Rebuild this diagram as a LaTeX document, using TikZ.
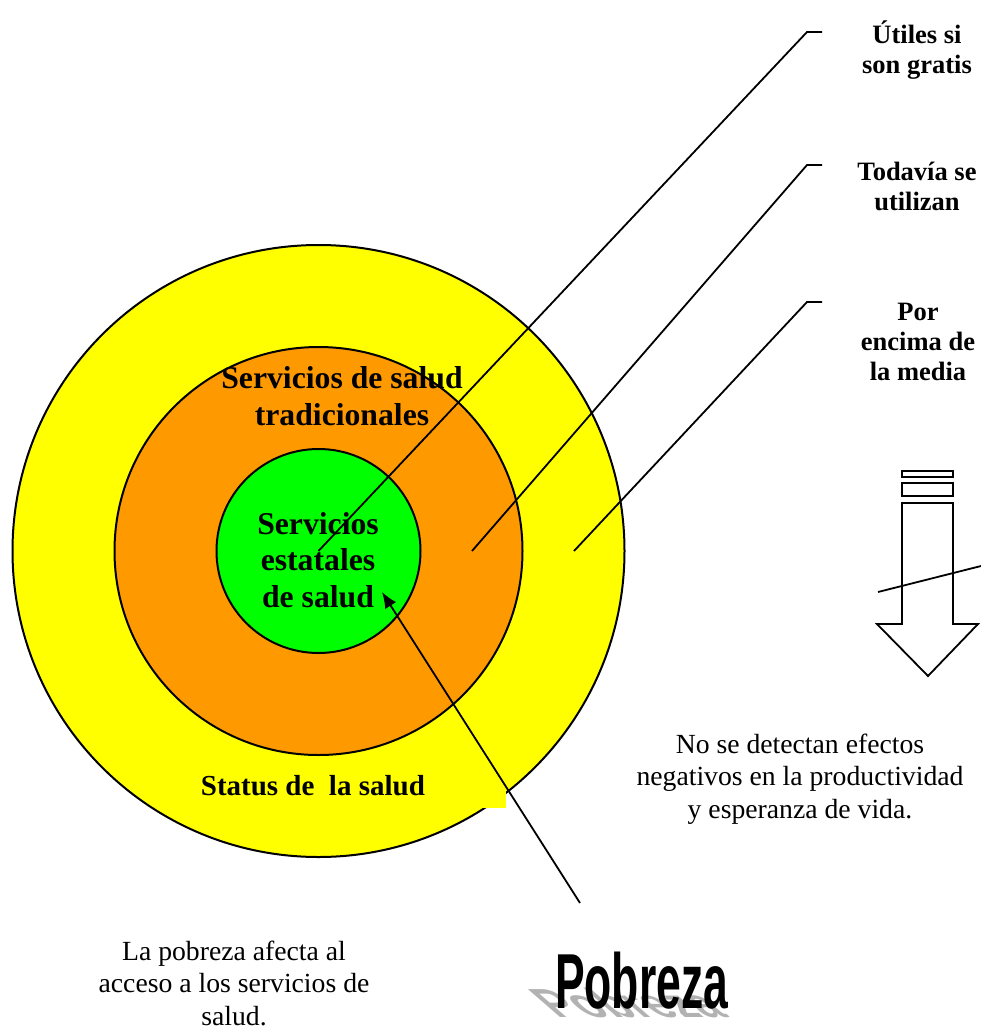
\documentclass[tikz,border=0pt]{standalone}
\usepackage{fontspec}
\setmainfont{Liberation Serif}
\newfontfamily\pobfont{Liberation Sans}
\usetikzlibrary{arrows.meta}
\definecolor{ylw}{RGB}{255,255,0}
\definecolor{org}{RGB}{255,153,0}
\definecolor{grn}{RGB}{0,255,0}
\begin{document}
\begin{tikzpicture}[x=1pt,y=-1pt,line width=1.8pt,
  ring/.style={circle,draw=black,line width=2pt,inner sep=0pt},
  lead/.style={line width=1.8pt},
  sidelab/.style={font=\fontsize{26.5}{30}\selectfont\bfseries,align=center,anchor=base,inner sep=0pt},
  ringlab/.style={font=\fontsize{31.7}{36.5}\selectfont\bfseries,align=center,anchor=base,inner sep=0pt},
  note/.style={font=\fontsize{27.7}{32.5}\selectfont,align=center,anchor=base,inner sep=0pt}]
\useasboundingbox (0,0) rectangle (981,1031);
\coordinate (c) at (318.5,551);
% rings
\node[ring,fill=ylw,minimum size=612pt] (outer) at (c) {};
\fill[ylw] (190,765) rectangle (506,808);
\node[ring,fill=org,minimum size=408pt] (middle) at (c) {};
\node[ring,fill=grn,minimum size=204pt] (inner) at (c) {};
% leader lines
\coordinate (m1) at (472,551);
\coordinate (m2) at (574,551);
\coordinate (b1) at (807,32);  \coordinate (e1) at (822,32);
\coordinate (b2) at (807,165); \coordinate (e2) at (822,165);
\coordinate (b3) at (807,302); \coordinate (e3) at (822,302);
\draw[lead] (c) -- (b1) -- (e1);
\draw[lead] (m1) -- (b2) -- (e2);
\draw[lead] (m2) -- (b3) -- (e3);
% side labels
\node[sidelab] (l1) at (917,73) {Útiles si\\son gratis};
\node[sidelab] (l2) at (917,210) {Todavía se\\utilizan};
\node[sidelab] (l3) at (918,380) {Por\\encima de\\la media};
% ring labels
\node[ringlab] (t2) at (342,425) {Servicios de salud\\tradicionales};
\node[ringlab] (t1) at (318,607) {Servicios\\estatales\\de salud};
\node[font=\fontsize{29}{33}\selectfont\bfseries,anchor=base west,inner sep=0pt] (t3) at (200,795) {Status de\ \ la salud};
% block arrow
\draw[lead,fill=white] (902,471) rectangle (953,477);
\draw[lead,fill=white] (902,483) rectangle (953,496);
\draw[lead,fill=white,line join=miter] (902,503) -- (902,624) -- (877,624) -- (928,676) -- (978,624) -- (953,624) -- (953,503) -- cycle;
\coordinate (x1) at (878,592); \coordinate (x2) at (981,566);
\draw[lead] (x1) -- (x2);
% notes
\node[note] (n1) at (800,818) {No se detectan efectos\\negativos en la productividad\\y esperanza de vida.};
\node[note] (n2) at (234,1025) {La pobreza afecta al\\acceso a los servicios de\\salud.};
% Pobreza
\begin{scope}[shift={(644,1017)}]
\node[transform shape,yscale=0.52,xslant=-0.6,anchor=base,inner sep=0pt,text=black!30] (pshadow) at (0,0) {\pobfont\bfseries\fontsize{78}{80}\selectfont\scalebox{0.57}[1]{Pobreza}};
\end{scope}
\node[anchor=base,inner sep=0pt] (pob) at (641.5,1008) {\pobfont\bfseries\fontsize{78}{80}\selectfont\scalebox{0.57}[1]{Pobreza}};
\coordinate (p0) at (580,903);
\coordinate (g1) at (382,592);
\draw[lead,-{Latex[length=16pt,width=13pt]}] (p0) -- (g1);
\end{tikzpicture}
\end{document}
